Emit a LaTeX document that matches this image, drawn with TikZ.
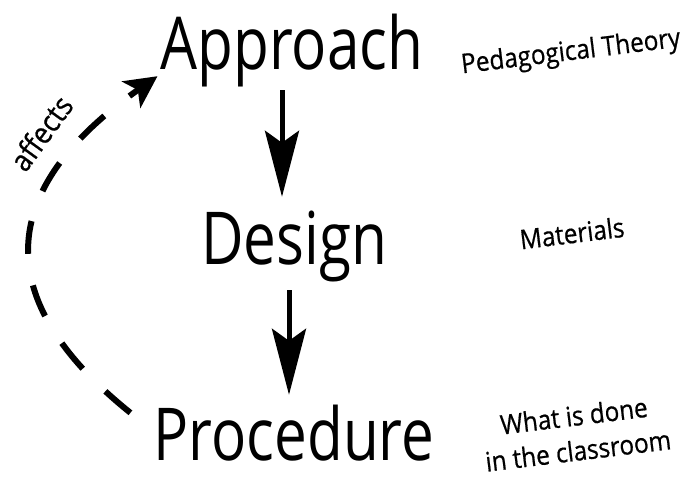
\documentclass[tikz,border=0pt]{standalone}
\usepackage{fontspec}
\setmainfont[FakeStretch=0.8]{Open Sans}
\newfontfamily\sidefont[FakeStretch=0.9, FakeBold=0.6]{Open Sans}
\usetikzlibrary{
	positioning,
	arrows.meta
}

\tikzset{
	stage/.style={font=\fontsize{73}{73}\selectfont, inner sep=0pt, text height=55pt, text depth=17pt},
	sidelabel/.style={font=\sidefont\fontsize{27}{35}\selectfont, align=center, inner sep=0pt},
	flow/.style={line width=5pt, -{Stealth[length=66pt,width=34pt,inset=12pt]}},
	feedback/.style={line width=6pt, dash pattern=on 33pt off 32pt, -{Stealth[length=32pt,width=32pt,inset=8pt]}}
}

\begin{document}
\begin{tikzpicture}[x=1pt, y=-1pt, node distance=195pt]
		\useasboundingbox (0,0) rectangle (691,481);

		% the three levels
		\node[stage] (approach) at (292,51) {Approach};
		\node[stage, below of=approach, xshift=2pt] (design) {Design};
		\node[stage, below of=design] (procedure) {Procedure};

		% what each level stands for
		\node[sidelabel, rotate=7] (theory) at (571,53) {Pedagogical Theory};
		\node[sidelabel, rotate=7] (materials) at (572,233) {Materials};
		\node[sidelabel, rotate=7] (classroom) at (576,433) {What is done\\in the classroom};
		\node[sidelabel, rotate=54, font=\sidefont\fontsize{30}{30}\selectfont] (affects) at (41,133) {affects};

		\draw[flow, shorten <=3pt, shorten >=13pt]
			([xshift=-10pt]approach.south) -- ([xshift=-10pt]approach.south |- design.north);
		\draw[flow, shorten <=8pt, shorten >=10pt]
			([xshift=-5pt]design.south) -- ([xshift=-5pt]procedure.north);

		\draw[feedback]
			([xshift=-23pt,yshift=-8pt]procedure.north west)
				.. controls (-10,300) and (-5,190) ..
			([xshift=-3pt,yshift=11pt]approach.south west);
	\end{tikzpicture}
\end{document}
